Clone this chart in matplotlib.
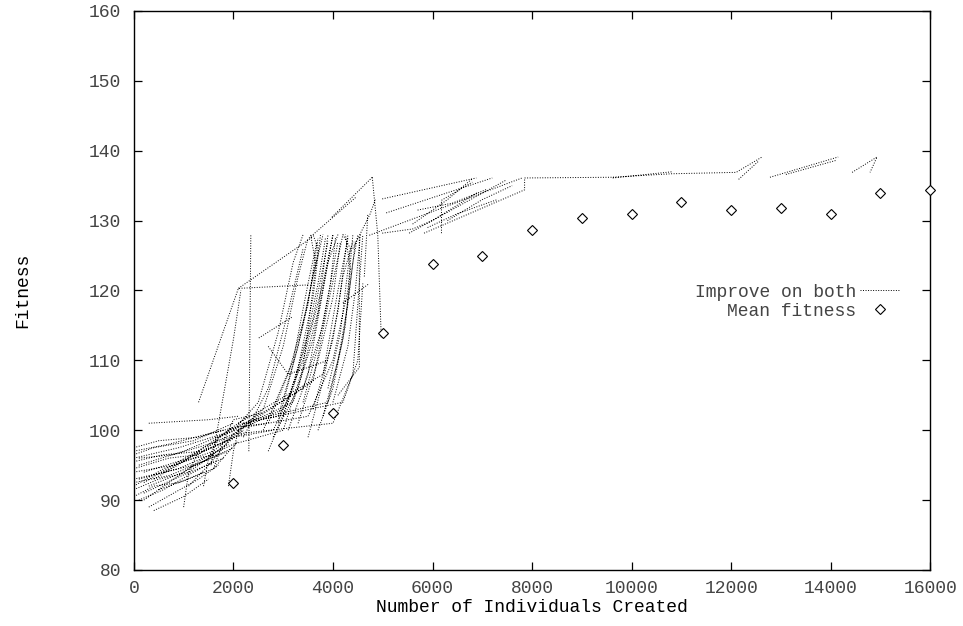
import numpy as np
import matplotlib
matplotlib.use('Agg')
import matplotlib.pyplot as plt

# mean fitness every 1000 individuals
mean_x = [2000, 3000, 4000, 5000, 6000, 7000, 8000, 9000, 10000, 11000,
          12000, 13000, 14000, 15000, 16000]
mean_y = [92.4, 97.9, 102.4, 113.9, 123.8, 124.9, 128.6, 130.4, 130.9,
          132.6, 131.5, 131.8, 131.0, 134.0, 134.4]

start_runs = [
    [(0, 97), (700, 98), (1500, 99.5), (2100, 100.5)],
    [(0, 96), (900, 97.5), (1800, 99.5), (2200, 101)],
    [(100, 95), (1000, 97), (2000, 100)],
    [(0, 95.5), (600, 96.5), (1400, 97), (2000, 99)],
    [(200, 94), (1100, 96), (1900, 98.5), (2300, 101)],
    [(0, 94), (800, 95), (1600, 97), (2100, 100)],
    [(100, 93), (900, 94.5), (1700, 97), (2000, 98)],
    [(0, 93), (1200, 95), (1900, 97)],
    [(300, 92), (1000, 94), (1500, 96), (2200, 100)],
    [(0, 92.5), (700, 93.5), (1400, 95.5), (2000, 97.5)],
    [(200, 91), (800, 93), (1300, 94.5), (1800, 96)],
    [(100, 90), (600, 91.5), (1200, 94), (1600, 95.5)],
    [(300, 89), (800, 91), (1300, 93), (1700, 95)],
    [(400, 88.5), (1000, 90.5), (1500, 93)],
    [(0, 91.5), (500, 93), (1100, 94), (1600, 96.5)],
    [(0, 96.5), (400, 97.5), (1200, 98.5), (2000, 101)],
    [(300, 101), (1500, 101.5), (2100, 102)],
    [(1000, 89), (1100, 94), (1300, 97)],
    [(1900, 92), (2000, 97), (2100, 100)],
    [(0, 97.5), (500, 98.5), (1300, 99), (1800, 100)],
    [(200, 92.5), (900, 95.5), (1400, 97.5), (1900, 99)],
    [(600, 94), (1200, 96.5), (1700, 98), (2200, 99.5)],
    [(0, 90.5), (400, 92), (900, 92.5), (1400, 94)],
    [(1100, 92), (1500, 95), (1800, 97.5), (2000, 99.5)],
    [(0, 94.5), (700, 96), (1300, 96.5), (2000, 100.5)],
    [(100, 96), (800, 96.5), (1500, 98), (2200, 100)],
    [(400, 93), (1000, 95.5), (1600, 98.5), (2300, 102)],
    [(0, 92), (600, 94.5), (1200, 96), (1700, 96.5)],
    [(200, 90), (700, 92.5), (1300, 95.5), (1900, 98)],
    [(500, 91.5), (1100, 93), (1600, 94.5), (2100, 98.5)],
    [(1400, 92), (1500, 96), (1700, 99), (2400, 101)],
    [(1600, 94.5), (1800, 98.5), (2000, 101.5), (2600, 102.5)],
]

climb_runs = [
    [(2100, 100.5), (2700, 101), (3100, 108), (3500, 118), (3700, 127.5)],
    [(2200, 101), (2900, 102), (3300, 112), (3600, 122), (3800, 128)],
    [(2000, 99), (2800, 100), (3200, 106), (3600, 116), (3900, 127)],
    [(2100, 100), (3000, 103), (3400, 110), (3800, 121), (4000, 128)],
    [(2300, 101), (3200, 104), (3600, 113), (3900, 124), (4100, 128)],
    [(2000, 100), (3400, 106), (3800, 115), (4100, 127)],
    [(2200, 100.5), (3600, 107), (3900, 118), (4200, 128)],
    [(2100, 101), (3800, 108), (4100, 120), (4300, 127.5)],
    [(2400, 101.5), (3900, 104), (4200, 113), (4400, 124), (4500, 128)],
    [(2000, 98), (3000, 100), (3400, 109), (3700, 126), (3600, 128)],
    [(2100, 100), (2600, 103), (3000, 112), (3300, 122), (3500, 127.5)],
    [(2200, 99), (2700, 106), (3100, 117), (3400, 126)],
    [(2000, 100), (2500, 104), (2900, 114), (3200, 124), (3400, 128)],
    [(2300, 100.5), (3500, 102), (4000, 110), (4300, 120), (4400, 128)],
    [(2100, 99.5), (4000, 101), (4400, 108), (4500, 118), (4600, 128)],
    [(2200, 101), (4200, 104), (4500, 110), (4600, 121)],
    [(3100, 100), (3500, 108), (3800, 120), (4000, 128)],
    [(2800, 99), (3300, 106), (3700, 117), (3900, 128)],
    [(3500, 99), (3800, 107), (4100, 117), (4300, 128)],
    [(3600, 103), (4000, 113), (4200, 122), (4400, 127)],
    [(2700, 97), (3100, 104), (3500, 114), (3700, 121), (3850, 127.5)],
    [(3300, 101), (3700, 110), (4000, 119), (4150, 127)],
    [(3000, 102), (3300, 109), (3600, 119), (3750, 128)],
    [(3400, 104), (3700, 112), (3950, 121), (4050, 127.5)],
    [(3800, 102), (4100, 110), (4300, 118), (4450, 127)],
    [(3700, 100), (4000, 106), (4250, 115), (4350, 123), (4250, 128)],
    [(2900, 101), (3400, 115), (3650, 124), (3550, 128)],
    [(4000, 104), (4300, 112), (4450, 120), (4550, 128)],
    [(2600, 100), (3200, 110), (3500, 121), (3680, 127)],
    [(3900, 106), (4150, 114), (4350, 126), (4200, 128)],
    [(2310, 97), (2350, 128)],
    [(1300, 104), (2100, 120.3), (3520, 120.8)],
    [(2100, 120.3), (3580, 127.6)],
    [(1550, 95), (2000, 113), (2150, 120)],
    [(2510, 113.2), (3180, 116.2)],
    [(2700, 112), (3100, 108), (3900, 110)],
    [(4530, 127.6), (4530, 109), (4100, 105)],
    [(4400, 126), (4750, 131), (4850, 133)],
    [(3980, 130.5), (4790, 136.2)],
    [(3520, 127.5), (4470, 133.4)],
    [(4200, 118.2), (4730, 121)],
    [(4630, 122), (4700, 131)],
]

plateau_runs = [
    [(4730, 127.9), (7800, 136.1)],
    [(4990, 133.1), (6880, 136.1)],
    [(5070, 131.1), (7200, 136.1)],
    [(5530, 128.2), (7480, 135.8)],
    [(5830, 128.2), (7850, 134.4), (7850, 136.1)],
    [(6180, 128.2), (6180, 132.9), (6800, 135.5)],
    [(4990, 128.2), (5600, 128.8), (6000, 130), (6900, 134)],
    [(5600, 129.5), (6300, 133), (6800, 136)],
    [(4970, 113.3), (4900, 128), (4790, 136.2)],
    [(6300, 130), (7000, 133), (7600, 135)],
    [(5700, 131.5), (6400, 132.5), (7100, 134.5)],
    [(5900, 129), (6500, 131), (7300, 133)],
    [(7850, 136.1), (9600, 136.2), (10800, 136.7), (12100, 136.9),
     (12620, 139.1)],
]

late_runs = [
    [(9620, 136.1), (10830, 137)],
    [(12150, 135.9), (12550, 138.5)],
    [(12780, 136.2), (14150, 139.1)],
    [(13100, 136.6), (14100, 138.6)],
    [(14430, 136.9), (14930, 139.1), (14790, 136.9)],
]


def join_runs(runs):
    """Concatenate polylines with NaN gaps so they draw as one line."""
    xs, ys = [], []
    for run in runs:
        for x, y in run:
            xs.append(x)
            ys.append(y)
        xs.append(np.nan)
        ys.append(np.nan)
    return xs, ys


plt.rcParams['font.family'] = ['Liberation Mono', 'DejaVu Sans Mono']
plt.rcParams['font.size'] = 13
plt.rcParams['text.color'] = '#444444'
plt.rcParams['xtick.labelcolor'] = '#444444'
plt.rcParams['ytick.labelcolor'] = '#444444'

fig = plt.figure(figsize=(9.63, 6.26), dpi=100)
ax = fig.add_axes([0.139, 0.0895, 0.827, 0.893])

imp_x, imp_y = join_runs(start_runs + climb_runs + plateau_runs + late_runs)
ax.plot(imp_x, imp_y, color='black', lw=0.7, linestyle=(0, (1, 1.6)),
        label='Improve on both')
ax.plot(mean_x, mean_y, linestyle='none', marker='D', markersize=5,
        markerfacecolor='white', markeredgecolor='black',
        markeredgewidth=0.8, label='Mean fitness', clip_on=False, zorder=3)

ax.set_xlim(0, 16000)
ax.set_ylim(80, 160)
ax.set_xticks(np.arange(0, 16001, 2000))
ax.set_yticks(np.arange(80, 161, 10))
ax.tick_params(direction='in', length=6, width=0.9, top=True, right=True,
               color='black')
ax.tick_params(axis='x', pad=7)
ax.tick_params(axis='y', pad=9)
for spine in ax.spines.values():
    spine.set_linewidth(1.0)

ax.set_xlabel('Number of Individuals Created', labelpad=2)
ax.set_ylabel('Fitness', labelpad=42)

ax.legend(loc='upper right', bbox_to_anchor=(0.962, 0.512), frameon=False,
          markerfirst=False, handlelength=2.2, handletextpad=0.25,
          labelspacing=0.1, borderaxespad=0, borderpad=0)

fig.savefig('out.png', dpi=100)
